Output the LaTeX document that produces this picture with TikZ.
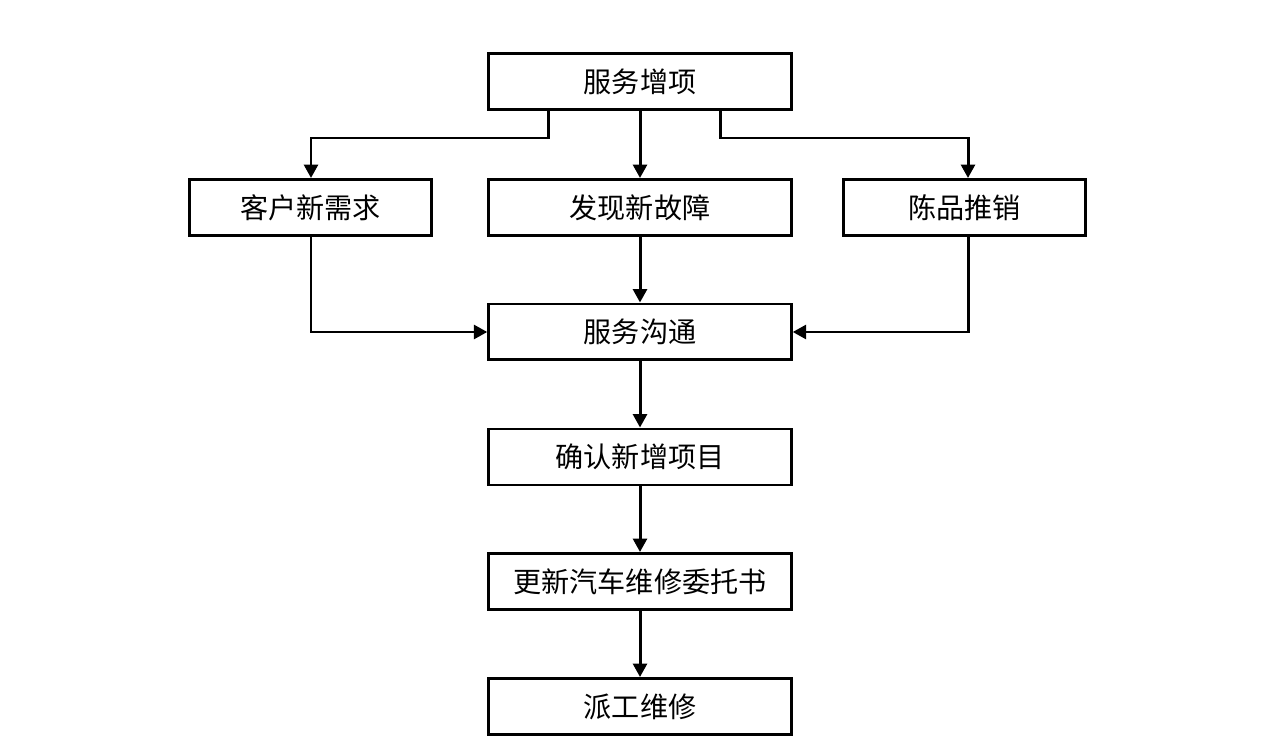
\documentclass[tikz,border=0pt]{standalone}
\usepackage{fontspec}
\newfontfamily\cjk{Noto Sans CJK SC}
\usetikzlibrary{arrows.meta}
\tikzset{
  kasse/.style = {draw, line width=1.7pt, minimum width=6.05cm, minimum height=1.12cm,
                  inner sep=0pt, font=\cjk\fontsize{16pt}{19pt}\selectfont},
  smalkasse/.style = {kasse, minimum width=4.85cm},
  pil/.style = {line width=1.7pt, -{Triangle[length=0.27cm,width=0.28cm]}}
}
\begin{document}
\begin{tikzpicture}
\begin{scope}[x=0.02cm, y=-0.02cm] % en enhet = ett piksel
\useasboundingbox (0,0) rectangle (1281,756);
%%
%% bokser
\node [kasse]     (servicetillegg) at (640,81.5)  {服务增项};
\node [smalkasse] (kundebehov)     at (310.5,207.5) {客户新需求};
\node [kasse]     (nyfeil)         at (640,207.5) {发现新故障};
\node [smalkasse] (salg)           at (964.5,207.5) {陈品推销};
\node [kasse]     (kommunikasjon)  at (640,332)   {服务沟通};
\node [kasse]     (bekreft)        at (640,457)   {确认新增项目};
\node [kasse]     (oppdater)       at (640,581.5) {更新汽车维修委托书};
\node [kasse]     (utsend)         at (640,706.5) {派工维修};
%%
%% hjelpepunkter
\coordinate (ut venstre) at (548,110);
\coordinate (ut hoyre)   at (720,110);
%%
%% piler
\draw [pil] (ut venstre) |- (311,138) -- (kundebehov.north -| 311,0);
\draw [pil] (ut hoyre)   |- (968,138) -- (salg.north -| 968,0);
\draw [pil] (servicetillegg) -- (nyfeil);
\draw [pil] (kundebehov.south -| 311,0) |- (kommunikasjon.west);
\draw [pil] (salg.south -| 968,0) |- (kommunikasjon.east);
\draw [pil] (nyfeil) -- (kommunikasjon);
\draw [pil] (kommunikasjon) -- (bekreft);
\draw [pil] (bekreft) -- (oppdater);
\draw [pil] (oppdater) -- (utsend);
%%
\end{scope}
\end{tikzpicture}
\end{document}
